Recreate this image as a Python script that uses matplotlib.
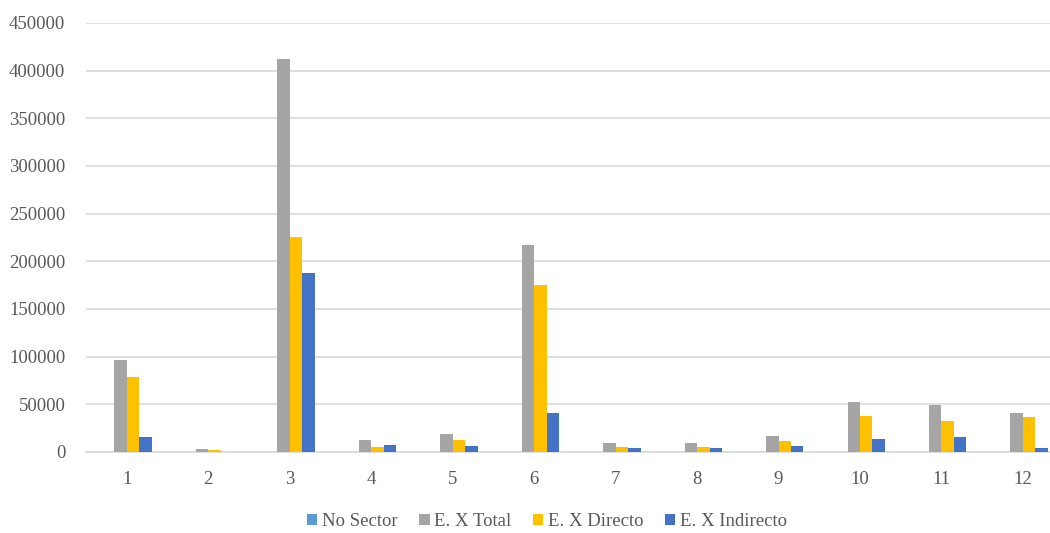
import matplotlib.pyplot as plt
import numpy as np

plt.rcParams['font.family'] = ['Liberation Serif', 'DejaVu Serif']

categorias = [str(i) for i in range(1, 13)]
no_sector = [0, 0, 0, 0, 0, 0, 0, 0, 0, 0, 0, 0]
ex_total = [96000, 3500, 412000, 12600, 19200, 217000, 9800, 9800, 16800, 52100, 49600, 41200]
ex_directo = [79000, 2000, 225500, 4900, 13000, 175500, 5200, 5200, 11200, 37800, 32800, 36400]
ex_indirecto = [16000, 300, 187800, 7300, 6000, 40900, 3800, 3800, 6300, 13300, 15700, 3800]

series = [("No Sector", no_sector, "#5b9bd5"),
          ("E. X Total", ex_total, "#a5a5a5"),
          ("E. X Directo", ex_directo, "#ffc000"),
          ("E. X Indirecto", ex_indirecto, "#4472c4")]

fig = plt.figure(figsize=(10.5, 5.33), dpi=100)
# el área del gráfico se sale un poco por la derecha, como en la original
ax = fig.add_axes([0.082, 0.152, 0.931, 0.805])

x = np.arange(len(categorias))
w = 0.153
for i, (nombre, vals, color) in enumerate(series):
    ax.bar(x + (i - 1.5) * w, vals, w, color=color, label=nombre, zorder=3)

ax.set_xlim(-0.5, len(categorias) - 0.5)
ax.set_ylim(0, 450000)
ax.set_yticks(np.arange(0, 450001, 50000))
ax.set_xticks(x)
ax.set_xticklabels(categorias)
ax.yaxis.grid(True, color="#d9d9d9", linewidth=1.2, zorder=0)
for s in ["top", "right", "left"]:
    ax.spines[s].set_visible(False)
ax.spines["bottom"].set_color("#d9d9d9")
ax.spines["bottom"].set_linewidth(1.2)
ax.tick_params(axis="both", length=0, labelsize=13.5, colors="#595959")
ax.tick_params(axis="y", pad=15)
ax.tick_params(axis="x", pad=14)

fig.legend(loc="center", bbox_to_anchor=(0.521, 0.021), ncol=4, frameon=False,
           fontsize=13.5, handlelength=0.55, handleheight=0.55, handletextpad=0.25,
           columnspacing=1.15, labelcolor="#595959")

fig.savefig("out.png", dpi=100)
